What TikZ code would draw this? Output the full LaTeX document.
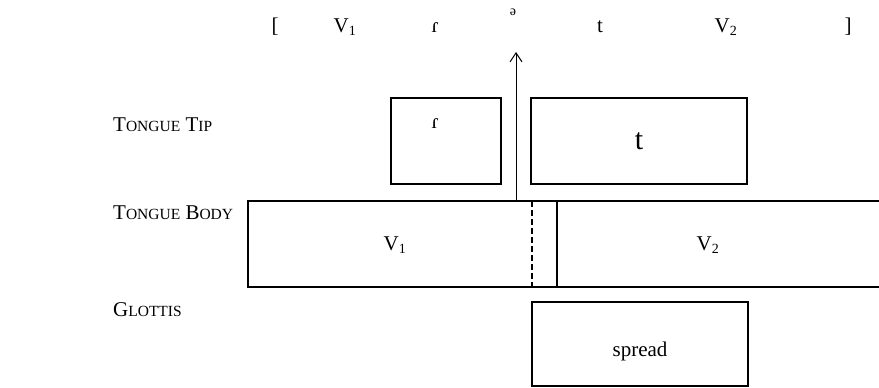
\documentclass[tikz,border=0pt]{standalone}
\usepackage{fontspec}
\setmainfont{Liberation Serif}
\usetikzlibrary{arrows.meta}
\newcommand{\bigf}{\fontsize{21}{24}\selectfont}
\newcommand{\scf}{\fontsize{15.5}{18}\selectfont}
\newcommand{\tf}{\fontsize{30}{34}\selectfont}
\newcommand{\subf}{\fontsize{14}{16}\selectfont}
\tikzset{
  box/.style={draw, line width=1.2pt, anchor=north west, inner sep=0pt, outer sep=0pt},
  tier/.style={anchor=base west, inner sep=0pt, font=\bigf},
  seg/.style={anchor=base, inner sep=0pt, font=\bigf},
  lbl/.style={inner sep=0pt, font=\bigf},
  ln/.style={line width=1.2pt}
}
\begin{document}
\begin{tikzpicture}[x=1pt,y=-1pt]
\useasboundingbox (0,0) rectangle (879,388);
% top transcription
\node[seg] (lb) at (275,32) {[};
\node[seg] (v1t) at (345,32) {V\textsubscript{\subf 1}};
\node[seg] (tapt) at (435,32) {ɾ};
\node[seg, font=\subf] (schwa) at (513,16) {ə};
\node[seg] (tt) at (600,32) {t};
\node[seg] (v2t) at (726,32) {V\textsubscript{\subf 2}};
\node[seg] (rb) at (848,32) {]};
% tier labels
\node[tier] (ltip) at (113,131) {T{\scf ONGUE} T{\scf IP}};
\node[tier] (lbody) at (113,219) {T{\scf ONGUE} B{\scf ODY}};
\node[tier] (lglot) at (113,316) {G{\scf LOTTIS}};
% tongue tip
\node[box, minimum width=110pt, minimum height=86pt] (tipr) at (391,98) {};
\node[lbl, anchor=base] (tiprl) at (435,128) {ɾ};
\node[box, minimum width=216pt, minimum height=86pt] (tipt) at (531,98) {};
\node[lbl, font=\tf] (tiptl) at (tipt.center) {t};
% tongue body
\node[box, minimum width=309pt, minimum height=86pt] (bodyv1) at (248,201) {};
\node[lbl] (v1l) at (395,245) {V\textsubscript{\subf 1}};
\coordinate (v2nw) at (532,201);
\coordinate (v2sw) at (532,287);
\coordinate (v2ne) at (879,201);
\coordinate (v2se) at (879,287);
\draw[ln] (bodyv1.north east) -- (v2ne);
\draw[ln] (bodyv1.south east) -- (v2se);
\draw[ln, dashed, dash pattern=on 6pt off 3pt] (v2nw) -- (v2sw);
\node[lbl] (v2l) at (708,245) {V\textsubscript{\subf 2}};
% glottis
\node[box, minimum width=216pt, minimum height=84pt] (glot) at (532,302) {};
\node[lbl, anchor=base] (glotl) at (640,356) {spread};
% arrow
\coordinate (arrfoot) at (516,201);
\coordinate (arrtip) at (516,52);
\draw[line width=1pt, -{Straight Barb[length=9pt,width=12pt,line width=1pt]}] (arrfoot) -- (arrtip);
\end{tikzpicture}
\end{document}
